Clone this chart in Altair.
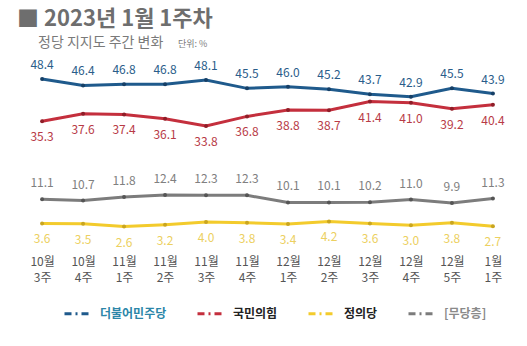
import altair as alt
import pandas as pd

weeks = ["10월 3주", "10월 4주", "11월 1주", "11월 2주", "11월 3주", "11월 4주",
         "12월 1주", "12월 2주", "12월 3주", "12월 4주", "12월 5주", "1월 1주"]
series = ["더불어민주당", "국민의힘", "정의당", "[무당층]"]
minjoo = [48.4, 46.4, 46.8, 46.8, 48.1, 45.5, 46.0, 45.2, 43.7, 42.9, 45.5, 43.9]
ppp = [35.3, 37.6, 37.4, 36.1, 33.8, 36.8, 38.8, 38.7, 41.4, 41.0, 39.2, 40.4]
justice = [3.6, 3.5, 2.6, 3.2, 4.0, 3.8, 3.4, 4.2, 3.6, 3.0, 3.8, 2.7]
nonparty = [11.1, 10.7, 11.8, 12.4, 12.3, 12.3, 10.1, 10.1, 10.2, 11.0, 9.9, 11.3]

line_colors = ["#1f5a8c", "#c42f3d", "#f3cb2c", "#7c7c7c"]
dot_colors = ["#163f66", "#8f1e28", "#c9a520", "#555555"]
label_colors = ["#2a5d8a", "#b83a46", "#ecd060", "#808080"]
label_dy = [-14, 16, 16, -16]

values = [minjoo, ppp, justice, nonparty]
rows = []
for s, vals in zip(series, values):
    for w, v in zip(weeks, vals):
        rows.append({"week": w, "party": s, "value": v})
df = pd.DataFrame(rows)

FONT = "Noto Sans CJK KR"

x = alt.X("week:N", sort=weeks,
          scale=alt.Scale(type="point", padding=0.49),
          axis=alt.Axis(title=None, labelAngle=0, domain=False, ticks=False, grid=False,
                        labelExpr="split(datum.value, ' ')", labelLineHeight=16,
                        labelPadding=21, labelColor="#555555", labelFontSize=12,
                        labelFont=FONT))
y = alt.Y("value:Q", scale=alt.Scale(domain=[0, 54.3], nice=False, zero=True), axis=None)

legend_color_expr = ("datum.label == '더불어민주당' ? '#2b86a8' : "
                     "datum.label == '[무당층]' ? '#8a8a8a' : '#222222'")

base = alt.Chart(df)

lines = base.mark_line(strokeWidth=3).encode(
    x=x, y=y,
    color=alt.Color("party:N", sort=series,
                    scale=alt.Scale(domain=series, range=line_colors),
                    legend=alt.Legend(title=None, orient="none", direction="horizontal",
                                      legendX=41, legendY=240,
                                      symbolType="stroke", symbolStrokeWidth=3,
                                      symbolDash=[7, 4, 2, 4, 7], symbolSize=576,
                                      labelFont=FONT, labelFontSize=12,
                                      labelFontWeight="bold",
                                      labelColor={"expr": legend_color_expr},
                                      labelOffset=10, columnPadding=24)),
)

layers = [lines]
for i, s in enumerate(series):
    sub = base.transform_filter(alt.datum.party == s)
    layers.append(sub.mark_circle(size=16, opacity=1, color=dot_colors[i]).encode(x=x, y=y))
    layers.append(sub.mark_text(dy=label_dy[i], fontSize=12, font=FONT,
                                color=label_colors[i]).encode(
        x=x, y=y, text=alt.Text("value:Q", format=".1f")))

header = alt.Chart(pd.DataFrame({"t": ["■ 2023년 1월 1주차"]})).mark_text(
    font=FONT, fontSize=22, fontWeight="bold", color="#6e6e6e", align="left", baseline="middle"
).encode(x=alt.value(-5), y=alt.value(-41), text="t:N")
sub1 = alt.Chart(pd.DataFrame({"t": ["정당 지지도 주간 변화"]})).mark_text(
    font=FONT, fontSize=14, color="#7a7a7a", align="left", baseline="middle"
).encode(x=alt.value(16), y=alt.value(-17), text="t:N")
sub2 = alt.Chart(pd.DataFrame({"t": ["단위: %"]})).mark_text(
    font=FONT, fontSize=9, color="#7a7a7a", align="left", baseline="middle"
).encode(x=alt.value(156), y=alt.value(-16), text="t:N")

chart = alt.layer(*layers, header, sub1, sub2).properties(
    width=491, height=175,
    autosize=alt.AutoSizeParams(type="none"),
    padding={"left": 22, "top": 60, "right": 14, "bottom": 111},
    background="white",
).configure_view(stroke=None)

chart.save("out.html", embed_options={"renderer": "svg", "actions": False})
